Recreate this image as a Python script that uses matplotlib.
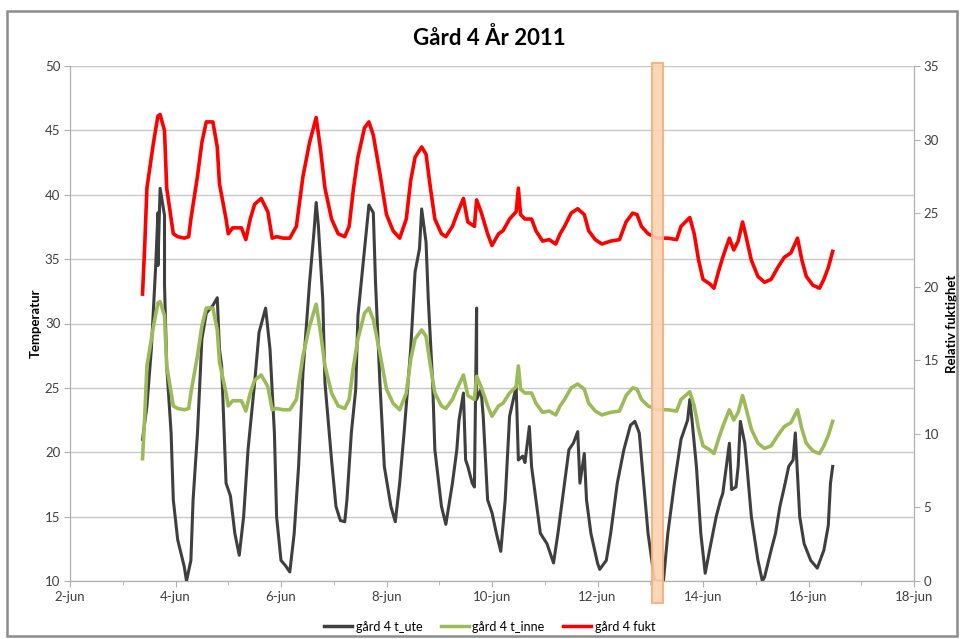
import datetime as dt
import matplotlib
matplotlib.use("Agg")
import matplotlib.pyplot as plt
import matplotlib.dates as mdates
import matplotlib.transforms as mtransforms
from matplotlib.patches import Rectangle
from matplotlib.lines import Line2D

plt.rcParams['font.family'] = ['Lato', 'DejaVu Sans']

# hours after 2011-06-03 00:00 and outdoor temperature
ute_hours = [9, 11, 13, 15, 16, 16, 17, 19, 19, 20, 22, 23, 25, 28, 29, 31, 32, 34, 36, 38,
             41, 43, 44, 45, 47, 49, 51, 53, 55, 57, 60, 62, 65, 67, 69, 70, 72, 74, 76, 78,
             80, 82, 85, 87, 88, 89, 91, 92, 95, 97, 99, 101, 102, 104, 106, 107, 110, 112, 114, 115,
             117, 119, 122, 124, 126, 128, 131, 133, 135, 136, 138, 139, 141, 142, 145, 147, 150, 152, 153, 155,
             156, 157, 159, 160, 161, 161, 163, 164, 166, 168, 170, 172, 174, 176, 179, 180, 182, 183, 185, 186,
             188, 190, 193, 196, 198, 201, 203, 205, 207, 208, 210, 211, 213, 216, 217, 220, 222, 225, 228, 231,
             233, 235, 237, 239, 242, 246, 248, 251, 254, 257, 258, 259, 261, 263, 265, 267, 270, 272, 273, 276,
             277, 279, 280, 281, 283, 284, 286, 289, 291, 292, 295, 297, 299, 301, 303, 305, 306, 308, 310, 313,
             316, 319, 321, 322, 323]
ute_temp = [21.0, 23.6, 28.0, 34.5, 38.6, 34.5, 40.5, 38.4, 33.0, 26.7, 21.5, 16.3, 13.2, 11.1, 10.0, 11.6, 16.3, 21.5, 28.8, 30.8,
            31.4, 32.0, 28.0, 26.7, 17.6, 16.6, 13.7, 12.0, 15.0, 20.2, 25.4, 29.3, 31.2, 28.0, 21.5, 15.0, 11.6, 11.2, 10.7, 13.7,
            18.9, 26.2, 33.2, 37.1, 39.4, 37.6, 31.9, 25.4, 19.4, 15.8, 14.7, 14.6, 16.3, 21.5, 24.9, 30.6, 35.8, 39.2, 38.6, 33.2,
            25.4, 18.9, 15.8, 14.6, 17.6, 21.5, 28.0, 34.0, 35.8, 38.9, 36.3, 31.9, 25.4, 20.2, 15.8, 14.4, 17.6, 20.2, 22.5, 24.6,
            19.4, 18.9, 17.6, 17.3, 31.2, 24.1, 24.9, 22.8, 16.3, 15.3, 13.7, 12.3, 16.3, 22.8, 25.1, 19.4, 19.7, 19.2, 22.0, 18.9,
            16.3, 13.7, 12.9, 11.4, 13.7, 17.6, 20.2, 20.7, 21.6, 17.6, 19.9, 16.3, 13.7, 11.4, 10.9, 11.6, 13.7, 17.6, 20.2, 22.1,
            22.4, 21.5, 17.6, 13.7, 10.0, 10.0, 13.7, 17.6, 21.0, 22.5, 24.1, 22.5, 18.9, 13.7, 10.6, 12.4, 15.0, 16.3, 16.8, 20.7,
            17.1, 17.3, 18.9, 22.4, 20.7, 18.9, 15.0, 11.6, 10.0, 10.3, 12.4, 13.7, 15.8, 17.3, 18.9, 19.4, 21.5, 15.0, 12.9, 11.6,
            11.0, 12.4, 14.3, 17.6, 18.9]

# hours after 2011-06-03 00:00 and indoor temperature
inne_hours = [9, 10, 11, 13, 14, 16, 17, 19, 20, 22, 23, 25, 28, 30, 31, 34, 36, 38, 41, 43,
              44, 47, 48, 50, 54, 56, 58, 60, 63, 66, 68, 70, 73, 76, 79, 82, 85, 88, 90, 92,
              95, 98, 101, 103, 105, 107, 110, 112, 114, 117, 120, 123, 126, 129, 131, 133, 136, 138, 140, 142,
              145, 147, 150, 152, 155, 157, 160, 161, 163, 166, 168, 171, 173, 176, 179, 180, 181, 183, 186, 188,
              191, 194, 197, 199, 201, 204, 207, 210, 212, 215, 218, 222, 226, 229, 232, 234, 236, 239, 243, 248,
              252, 254, 258, 260, 262, 264, 267, 269, 271, 273, 276, 278, 280, 282, 283, 286, 289, 292, 295, 298,
              301, 304, 307, 309, 311, 314, 317, 319, 321, 323]
inne_temp = [19.5, 22.8, 26.7, 28.8, 29.8, 31.6, 31.7, 30.6, 26.7, 24.6, 23.6, 23.4, 23.3, 23.4, 24.6, 27.5, 29.8, 31.2, 31.2, 29.5,
             27.0, 24.6, 23.6, 24.0, 24.0, 23.2, 24.6, 25.6, 26.0, 25.1, 23.3, 23.4, 23.3, 23.3, 24.1, 27.5, 29.8, 31.5, 29.3, 26.7,
             24.6, 23.6, 23.4, 24.1, 26.7, 28.8, 30.8, 31.2, 30.3, 27.7, 24.9, 23.8, 23.3, 24.6, 27.2, 28.8, 29.5, 29.0, 26.7, 24.6,
             23.6, 23.4, 24.1, 24.9, 26.0, 24.4, 24.1, 25.9, 25.1, 23.6, 22.8, 23.6, 23.8, 24.6, 25.1, 26.7, 24.9, 24.6, 24.6, 23.8,
             23.1, 23.2, 22.9, 23.6, 24.1, 25.0, 25.3, 24.9, 23.8, 23.2, 22.9, 23.1, 23.2, 24.4, 25.0, 24.9, 24.1, 23.6, 23.3, 23.3,
             23.2, 24.1, 24.7, 23.6, 21.8, 20.5, 20.2, 19.9, 21.0, 22.0, 23.3, 22.5, 23.1, 24.4, 23.8, 21.8, 20.7, 20.3, 20.5, 21.3,
             22.0, 22.3, 23.3, 21.8, 20.7, 20.1, 19.9, 20.5, 21.3, 22.4]

# relative humidity (right axis) - red curve traces the same values as t_inne
fukt_hours = list(inne_hours)
fukt_values = list(inne_temp)

# orange marker bar, hours after 2011-06-03 00:00
mark_start = 240.75
mark_end = 245.75

base = dt.datetime(2011, 6, 3)
def to_dates(hours):
    return [base + dt.timedelta(hours=h) for h in hours]

fig = plt.figure(figsize=(9.64, 6.39), dpi=100)
ax = fig.add_axes([70 / 964, 1 - 581 / 639, 844 / 964, 515 / 639])
ax2 = ax.twinx()

ax.plot(to_dates(ute_hours), ute_temp, color='#3f3f3f', lw=2.2, zorder=3)
ax.plot(to_dates(inne_hours), inne_temp, color='#9BBB59', lw=2.6, zorder=4)
ax2.plot(to_dates(fukt_hours), fukt_values, color='#FF0000', lw=2.6)

ax.set_xlim(dt.datetime(2011, 6, 2), dt.datetime(2011, 6, 18))
ax.set_ylim(10, 50)
ax2.set_ylim(0, 35)
ax.set_yticks(range(10, 51, 5))
ax2.set_yticks(range(0, 36, 5))
ax.xaxis.set_major_locator(mdates.DayLocator(interval=2))
ax.xaxis.set_minor_locator(mdates.DayLocator())
ax.xaxis.set_major_formatter(plt.FuncFormatter(
    lambda v, p: "%d-jun" % mdates.num2date(v).day))

ax.grid(axis='y', color='#c8c8c8', lw=1)
ax.set_axisbelow(True)
for a in (ax, ax2):
    a.spines['top'].set_visible(False)
    for s in ('left', 'right', 'bottom'):
        a.spines[s].set_color('#b0b0b0')
    a.tick_params(colors='#b0b0b0', labelcolor='#404040', labelsize=9.5, length=4, pad=3)
ax.tick_params(axis='x', which='minor', length=3, colors='#b0b0b0')

ax.set_ylabel("Temperatur", fontsize=9.5, fontweight='bold', labelpad=2)
ax2.set_ylabel("Relativ fuktighet", fontsize=9.5, fontweight='bold', labelpad=5)
fig.suptitle("Gård 4 År 2011", x=0.508, y=0.957, fontsize=16, fontweight='bold')

# orange marker from above the plot to below the axis
trans = mtransforms.blended_transform_factory(ax2.transData, ax2.transAxes)
x0 = mdates.date2num(base + dt.timedelta(hours=mark_start))
x1 = mdates.date2num(base + dt.timedelta(hours=mark_end))
ax2.add_patch(Rectangle((x0, -0.043), x1 - x0, 1.049, transform=trans, clip_on=False,
                        facecolor='#FBD3B2', edgecolor='#F4B07C', lw=1.5, alpha=0.9, zorder=10))

handles = [Line2D([], [], color='#3f3f3f', lw=2.5),
           Line2D([], [], color='#9BBB59', lw=2.5),
           Line2D([], [], color='#FF0000', lw=2.5)]
fig.legend(handles, ["gård 4 t_ute", "gård 4 t_inne", "gård 4 fukt"], loc='center',
           bbox_to_anchor=(0.508, 0.019), ncol=3, frameon=False, fontsize=9,
           handlelength=2.2, handletextpad=0.3, columnspacing=1.5)

fig.patches.append(Rectangle((7 / 964, 3 / 639), 950 / 964, 625 / 639, transform=fig.transFigure,
                             fill=False, edgecolor='#8c8c8c', lw=1.8))

plt.savefig("out.png", dpi=100)
